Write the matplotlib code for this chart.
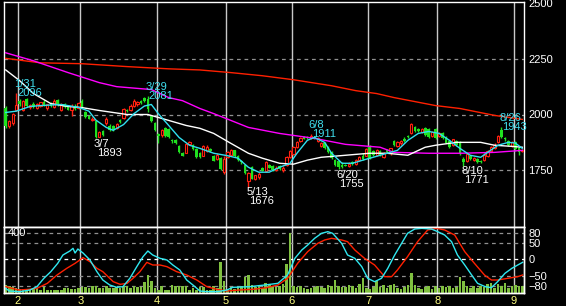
import matplotlib.pyplot as plt
import numpy as np

plt.rcParams['font.family'] = ['Liberation Sans', 'DejaVu Sans']

# daily candles, 2022-01-26 .. 2022-09-02 (150 trading days)
opens = [2030, 1948, 1962, 2020, 2062, 2018, 2070, 2032, 2045, 2030,
         2038, 2058, 2030, 2048, 2035, 2066, 2018, 2045, 2035, 2020,
         2040, 2030, 2060, 2010, 1995, 1975, 1972, 1900, 1925, 1960,
         1950, 1948, 1940, 1975, 1985, 2020, 2020, 2040, 2045, 2060,
         2075, 2070, 1995, 1960, 1912, 1906, 1940, 1935, 1885, 1885,
         1860, 1828, 1828, 1868, 1862, 1845, 1825, 1815, 1835, 1845,
         1815, 1800, 1805, 1740, 1808, 1818, 1840, 1815, 1790, 1772,
         1700, 1765, 1710, 1718, 1758, 1745, 1775, 1770, 1752, 1768,
         1750, 1772, 1810, 1822, 1855, 1880, 1900, 1898, 1895, 1900,
         1880, 1860, 1870, 1855, 1830, 1795, 1790, 1775, 1775, 1770,
         1785, 1780, 1795, 1815, 1815, 1860, 1835, 1820, 1835, 1810,
         1840, 1825, 1880, 1860, 1870, 1892, 1905, 1915, 1945, 1935,
         1920, 1940, 1935, 1905, 1935, 1905, 1915, 1900, 1880, 1865,
         1880, 1878, 1800, 1790, 1815, 1798, 1800, 1792, 1795, 1815,
         1835, 1850, 1875, 1932, 1895, 1880, 1860, 1875, 1850, 1835]
highs = [2040, 1975, 2008, 2096, 2068, 2065, 2075, 2045, 2055, 2052,
         2058, 2065, 2048, 2055, 2068, 2070, 2050, 2050, 2040, 2045,
         2045, 2055, 2068, 2015, 2000, 1990, 1975, 1925, 1930, 1990,
         1958, 1952, 1962, 1980, 2030, 2025, 2045, 2068, 2060, 2065,
         2080, 2081, 2000, 1965, 1915, 1935, 1945, 1940, 1888, 1890,
         1862, 1832, 1872, 1880, 1866, 1848, 1830, 1865, 1862, 1848,
         1818, 1825, 1808, 1815, 1835, 1845, 1842, 1820, 1795, 1775,
         1742, 1770, 1730, 1740, 1765, 1790, 1780, 1775, 1768, 1772,
         1768, 1812, 1842, 1860, 1880, 1898, 1905, 1905, 1911, 1905,
         1898, 1875, 1875, 1860, 1835, 1800, 1795, 1785, 1780, 1785,
         1790, 1800, 1815, 1825, 1850, 1865, 1840, 1845, 1840, 1830,
         1845, 1850, 1885, 1880, 1885, 1898, 1910, 1962, 1950, 1940,
         1940, 1945, 1940, 1925, 1940, 1920, 1920, 1905, 1885, 1892,
         1885, 1882, 1808, 1828, 1820, 1808, 1805, 1798, 1825, 1840,
         1860, 1870, 1910, 1943, 1900, 1885, 1882, 1880, 1858, 1845]
lows = [1940, 1940, 1955, 2015, 2040, 2015, 2035, 2025, 2030, 2025,
        2032, 2038, 2020, 2035, 2030, 2040, 2015, 2030, 2018, 1995,
        2020, 2025, 2030, 1985, 1978, 1970, 1893, 1898, 1905, 1955,
        1925, 1925, 1935, 1960, 1982, 2010, 2015, 2035, 2040, 2045,
        2055, 2010, 1965, 1925, 1872, 1900, 1900, 1895, 1870, 1868,
        1828, 1812, 1825, 1865, 1840, 1805, 1805, 1812, 1830, 1830,
        1790, 1798, 1750, 1732, 1805, 1815, 1810, 1792, 1780, 1735,
        1676, 1710, 1705, 1712, 1745, 1742, 1760, 1748, 1745, 1752,
        1740, 1768, 1805, 1818, 1850, 1875, 1888, 1890, 1890, 1890,
        1875, 1855, 1845, 1825, 1800, 1770, 1755, 1760, 1768, 1765,
        1775, 1775, 1790, 1795, 1812, 1800, 1815, 1815, 1815, 1805,
        1825, 1820, 1860, 1855, 1865, 1875, 1895, 1912, 1920, 1920,
        1915, 1905, 1895, 1900, 1890, 1900, 1890, 1870, 1850, 1860,
        1860, 1820, 1771, 1785, 1798, 1792, 1782, 1782, 1790, 1810,
        1830, 1845, 1870, 1895, 1880, 1860, 1855, 1835, 1818, 1830]
closes = [1950, 1970, 2002, 2042, 2045, 2060, 2040, 2042, 2035, 2048,
          2055, 2042, 2045, 2040, 2062, 2045, 2045, 2032, 2022, 2040,
          2025, 2050, 2035, 1990, 1982, 1980, 1898, 1920, 1910, 1982,
          1930, 1930, 1958, 1965, 2025, 2015, 2038, 2062, 2055, 2050,
          2060, 2025, 1970, 1930, 1905, 1932, 1905, 1898, 1882, 1870,
          1830, 1815, 1868, 1875, 1845, 1808, 1810, 1860, 1855, 1835,
          1792, 1820, 1755, 1800, 1830, 1840, 1815, 1795, 1785, 1738,
          1738, 1712, 1728, 1735, 1748, 1785, 1762, 1752, 1762, 1756,
          1762, 1808, 1835, 1855, 1875, 1895, 1892, 1895, 1905, 1895,
          1895, 1870, 1850, 1830, 1805, 1775, 1765, 1765, 1770, 1780,
          1778, 1795, 1810, 1800, 1845, 1805, 1820, 1840, 1818, 1825,
          1830, 1848, 1862, 1878, 1882, 1880, 1898, 1958, 1925, 1925,
          1935, 1910, 1900, 1920, 1895, 1915, 1895, 1872, 1855, 1888,
          1865, 1825, 1785, 1822, 1802, 1805, 1786, 1785, 1820, 1835,
          1852, 1862, 1905, 1900, 1888, 1865, 1878, 1845, 1830, 1842]
volumes = [50, 40, 36, 30, 24, 24, 24, 24, 30, 30,
           20, 34, 20, 20, 20, 20, 20, 30, 30, 26,
           26, 30, 34, 34, 30, 40, 40, 30, 30, 40,
           30, 30, 34, 30, 40, 40, 30, 40, 34, 34,
           66, 110, 70, 30, 20, 40, 20, 20, 50, 40,
           44, 44, 44, 20, 30, 20, 34, 34, 20, 20,
           44, 30, 185, 72, 20, 34, 26, 34, 40, 94,
           110, 50, 34, 40, 30, 60, 50, 40, 34, 40,
           54, 173, 362, 44, 36, 40, 30, 26, 30, 36,
           44, 34, 30, 50, 44, 78, 40, 34, 34, 46,
           40, 30, 54, 90, 30, 26, 34, 70, 34, 46,
           30, 46, 54, 30, 26, 34, 50, 120, 50, 30,
           26, 34, 44, 26, 40, 30, 44, 34, 40, 30,
           34, 100, 74, 40, 30, 40, 30, 44, 34, 54,
           60, 30, 54, 40, 58, 30, 44, 50, 44, 44]

month_starts = [4, 22, 44, 64, 83, 105, 125, 147]
month_labels = ['2', '3', '4', '5', '6', '7', '8', '9']

# moving averages (candle index, value)
ma_cyan_idx = [0, 3, 7, 10, 16, 21, 24, 26, 29, 31, 34, 37, 40, 42, 44, 47, 50, 53, 56, 60,
               64, 67, 70, 73, 76, 79, 82, 84, 87, 89, 92, 94, 97, 100, 103, 106, 110, 113, 116,
               119, 122, 125, 128, 131, 134, 137, 139, 142, 145, 147, 149]
ma_cyan = [2009, 2015, 2036, 2040, 2045, 2032, 2015, 1975, 1942, 1929, 1955, 2004, 2038, 2045, 2004,
           1951, 1897, 1862, 1848, 1826, 1815, 1804, 1763, 1741, 1741, 1763, 1781, 1826, 1884, 1897,
           1875, 1826, 1781, 1781, 1795, 1808, 1826, 1839, 1884, 1915, 1924, 1915, 1884, 1848, 1817,
           1808, 1830, 1862, 1875, 1872, 1848]
ma_white_idx = [0, 4, 8, 13, 18, 22, 27, 35, 41, 46, 52, 56, 60, 65, 70, 74, 79, 83, 87, 91, 95,
                101, 105, 110, 116, 121, 124, 130, 137, 141, 146, 149]
ma_white = [2200, 2152, 2094, 2049, 2036, 2031, 2018, 2000, 2000, 1978, 1951, 1938, 1915, 1870, 1826,
            1804, 1781, 1777, 1795, 1808, 1813, 1821, 1826, 1826, 1817, 1853, 1862, 1875, 1875, 1862,
            1857, 1853]
ma_magenta_idx = [0, 8, 18, 27, 32, 42, 47, 51, 56, 60, 70, 79, 89, 98, 108, 112, 122, 131, 141, 149]
ma_magenta = [2277, 2241, 2188, 2143, 2125, 2112, 2076, 2062, 2027, 2004, 1942, 1915, 1893, 1866,
              1853, 1830, 1826, 1826, 1830, 1839]
ma_red_idx = [0, 10, 22, 35, 47, 56, 65, 74, 83, 94, 101, 107, 112, 124, 131, 141, 149]
ma_red = [2252, 2232, 2228, 2215, 2205, 2200, 2188, 2174, 2156, 2129, 2107, 2094, 2076, 2040, 2027,
          1996, 1978]

# oscillator (lower panel)
osc_fast_idx = [0, 1, 4, 7, 9, 11, 13, 15, 16.5, 18.5, 19.4, 20, 20.8, 22.3, 24.3, 26.3, 28, 30, 32,
                33.8, 35.8, 37.8, 39.6, 41, 42.4, 44.5, 46.5, 48.2, 50.2, 52.2, 54, 56, 58, 61, 63.8,
                65.5, 70.4, 74.7, 78.5, 81.3, 83.4, 85.4, 87.1, 89.1, 91.1, 92.9, 94.3, 96.9, 98.6,
                100.7, 102.7, 104.4, 106.4, 108.4, 110.2, 112.2, 114.2, 115.9, 118, 120, 122.8, 124.6,
                126.6, 128.6, 130.3, 132.4, 134.4, 136.1, 138.3, 140.1, 141.9, 144, 146, 147.7, 149.1]
osc_fast = [-87, -95, -97, -92, -82, -57, -37, -12, 13, 25, 33, 19, 31, 19, -2, -37, -62, -77, -84,
            -82, -57, -22, 8, 25, 13, 3, -2, -17, -32, -62, -77, -95, -97, -97, -92,
            -84, -82, -77, -72, -47, 3, 28, 43, 63, 78, 83, 78, 48, 13,
            3, -22, -57, -67, -57, -27, 13, 48, 78, 91, 93, 91, 83,
            73, 53, 13, -17, -47, -72, -82, -85, -67, -42, -27, -17, -9]
osc_slow_idx = [0, 3.7, 6.6, 9, 12, 14.8, 17.6, 20, 22.3, 24.3, 26.3, 28, 31, 33, 35, 36.7, 38.7,
                40.7, 42.4, 44.5, 46.5, 49.3, 52.2, 55.1, 58, 60.9, 63.8, 67.5, 71.3, 75.3, 78.5,
                81.3, 84.2, 87.1, 90, 92, 94, 96.9, 98.6, 100.7, 103.5, 106.4, 109.3, 111.3, 113,
                115.9, 118.8, 121.7, 124.3, 126.6, 129.5, 132.4, 135.2, 138.1, 140.1, 141.9, 144.8,
                147.7, 149.1]
osc_slow = [-82, -92, -90, -87, -72, -47, -27, -12, 5, -7, -27, -37, -67, -75, -72, -57, -37,
            -9, -17, -17, -22, -37, -47, -62, -82, -90, -95, -92, -90, -85, -77,
            -57, -12, 23, 48, 58, 63, 58, 53, 28, 3, -17, -52, -52, -32,
            8, 53, 88, 93, 88, 73, 23, -12, -47, -62, -62, -57,
            -52, -47]

peaks = [(3, '1/31', '2096'), (41, '3/29', '2081'), (88, '6/8', '1911'), (143, '8/26', '1943')]
troughs = [(26, '3/7', '1893'), (70, '5/13', '1676'), (96, '6/20', '1755'), (132, '8/10', '1771')]

fig = plt.figure(figsize=(5.66, 3.06), dpi=100, facecolor='black')
ax = fig.add_axes([4 / 566, 79 / 306, 520 / 566, 225 / 306])
axv = fig.add_axes([4 / 566, 13 / 306, 520 / 566, 66 / 306])
axo = axv.twinx()

for a in (ax, axv):
    a.set_facecolor('black')
for a in (ax, axv, axo):
    for s in a.spines.values():
        s.set_color('white')
        s.set_linewidth(1)
axo.patch.set_visible(False)

n = len(closes)
x = np.arange(n)
o = np.array(opens)
c = np.array(closes)
up = c >= o
red = '#ff2010'
green = '#20e020'

# grid
for y in (1750, 2000, 2250):
    ax.axhline(y, color='#909090', lw=0.9, ls=(0, (3, 3)), zorder=1)
for m in month_starts:
    ax.axvline(m - 0.5, color='#c8c8c8', lw=1, zorder=1)
    axv.axvline(m - 0.5, color='#c8c8c8', lw=1, zorder=1)
for y in (80, 50, -50, -80):
    axv.plot([-0.5, n - 0.5], [y, y], color='#909090', lw=0.9, ls=(0, (3, 3)),
             transform=axo.transData, zorder=1)
axv.plot([-0.5, n - 0.5], [0, 0], color='white', lw=0.9, ls=(0, (3, 3)),
         transform=axo.transData, zorder=1)

# candles
ax.vlines(x, lows, highs, colors=np.where(up, red, green), lw=1, zorder=3)
ax.bar(x[up], (c - o)[up], bottom=o[up], width=0.65, facecolor='black',
       edgecolor=red, linewidth=0.8, zorder=4)
ax.bar(x[~up], (o - c)[~up], bottom=c[~up], width=0.75, color=green, zorder=4)

# moving averages
ax.plot(ma_red_idx, ma_red, color='#ff2000', lw=1, zorder=5)
ax.plot(ma_magenta_idx, ma_magenta, color='#ff00ff', lw=1, zorder=5)
ax.plot(ma_white_idx, ma_white, color='white', lw=1, zorder=5)
ax.plot(ma_cyan_idx, ma_cyan, color='#30e0f0', lw=1, zorder=5)

cyan_txt = '#40e0f0'
for i, d, v in peaks:
    ax.annotate(d, (i, highs[i]), xytext=(-2, 6.5), textcoords='offset pixels',
                color=cyan_txt, fontsize=8, ha='left', va='baseline', zorder=6)
    ax.annotate(v, (i, highs[i]), xytext=(1, -2.5), textcoords='offset pixels',
                color=cyan_txt, fontsize=8, ha='left', va='baseline', zorder=6)
for i, d, v in troughs:
    ax.annotate(d, (i, lows[i]), xytext=(-2, -8.5), textcoords='offset pixels',
                color='white', fontsize=8, ha='left', va='baseline', zorder=6)
    ax.annotate(v, (i, lows[i]), xytext=(1, -17.5), textcoords='offset pixels',
                color='white', fontsize=8, ha='left', va='baseline', zorder=6)

ax.set_xlim(-0.5, n - 0.5)
ax.set_ylim(1495, 2505)
ax.set_xticks([])
ax.yaxis.tick_right()
ax.set_yticks([1750, 2000, 2250, 2500])
ax.tick_params(axis='y', length=0, pad=3, labelcolor='white', labelsize=8)

# volume + oscillator
axv.bar(x, volumes, width=0.75, color='#80c040', zorder=2)
axv.set_ylim(0, 400)
axv.set_yticks([])
axv.set_xlim(-0.5, n - 0.5)
axv.set_xticks([m - 0.5 for m in month_starts])
axv.set_xticklabels(month_labels)
axv.tick_params(axis='x', length=0, pad=2, labelcolor='#ffff80', labelsize=8)
axv.text(0.008, 0.985, '400', transform=axv.transAxes, color='white', fontsize=8,
         ha='left', va='top')

axo.plot(osc_slow_idx, osc_slow, color='#ff2000', lw=1)
axo.plot(osc_fast_idx, osc_fast, color='#30e8f0', lw=1)
axo.set_ylim(-101, 97)
axo.set_yticks([80, 50, 0, -50, -80])
axo.tick_params(axis='y', length=0, pad=3, labelcolor='white', labelsize=8)
axo.set_xlim(-0.5, n - 0.5)

fig.savefig('out.png', dpi=100, facecolor='black')
